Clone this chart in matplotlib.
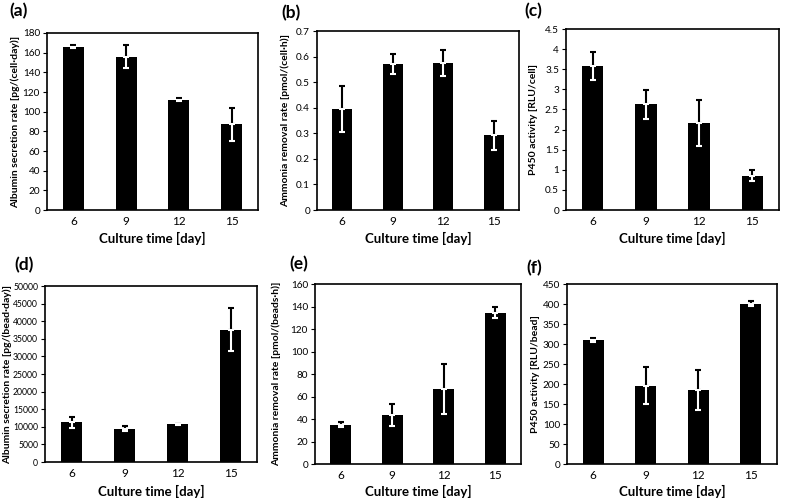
import matplotlib
matplotlib.use("Agg")
import matplotlib.pyplot as plt

plt.rcParams['font.family'] = ['Lato', 'DejaVu Sans']

days = ['6', '9', '12', '15']

alb_cell = [166, 156, 112, 87]
alb_cell_err = [1.5, 12, 1.5, 17]
amm_cell = [0.395, 0.57, 0.575, 0.293]
amm_cell_err = [0.09, 0.04, 0.05, 0.057]
p450_cell = [3.57, 2.63, 2.17, 0.85]
p450_cell_err = [0.35, 0.36, 0.57, 0.14]

alb_bead = [11300, 9500, 10700, 37600]
alb_bead_err = [1600, 800, 200, 6200]
amm_bead = [35, 43.5, 66.5, 134.5]
amm_bead_err = [2, 10, 22, 5]
p450_bead = [310, 196, 186, 401]
p450_bead_err = [4, 47, 50, 7]

W, H = 785, 498
fig = plt.figure(figsize=(W / 100, H / 100), dpi=100)


def panel(box, vals, errs, ymax, ystep, ylabel, tag, tagpos, ylab_x, xlab_y,
          ytick_size=7.2):
    x0, y0, x1, y1 = box
    ax = fig.add_axes([x0 / W, 1 - y1 / H, (x1 - x0) / W, (y1 - y0) / H])
    pos = range(len(vals))
    ax.bar(pos, vals, width=0.4, color='black', zorder=2)
    # upper half of error bar in black, lower half (inside bar) in white
    ax.errorbar(pos, vals, yerr=[[0] * len(errs), errs], fmt='none',
                ecolor='black', elinewidth=1.5, capsize=2.5, capthick=1.5, zorder=3)
    ax.errorbar(pos, vals, yerr=[errs, [0] * len(errs)], fmt='none',
                ecolor='white', elinewidth=1.5, capsize=2.5, capthick=1.5, zorder=3)
    ax.set_xlim(-0.5, len(vals) - 0.5)
    ax.set_ylim(0, ymax)
    ticks = [i * ystep for i in range(int(round(ymax / ystep)) + 1)]
    ax.set_yticks(ticks)
    ax.set_yticklabels([('%g' % t) for t in ticks], fontsize=ytick_size)
    ax.set_xticks(list(pos))
    ax.set_xticklabels(days, fontsize=8.5)
    ax.tick_params(axis='x', length=0, pad=4)
    ax.tick_params(axis='y', length=3, width=0.8, pad=2)
    for s in ax.spines.values():
        s.set_linewidth(1.2)
    ax.set_xlabel('Culture time [day]', fontsize=9.5, fontweight='bold')
    ax.set_ylabel(ylabel, fontsize=7.5, fontweight='bold')
    # place axis titles at fixed pixel spots
    ax.xaxis.set_label_coords(0.5, (y1 - xlab_y) / (y1 - y0))
    ax.xaxis.label.set_va('center')
    ax.yaxis.set_label_coords((ylab_x - x0) / (x1 - x0), 0.5)
    ax.yaxis.label.set_va('center')
    fig.text(tagpos[0] / W, 1 - tagpos[1] / H, tag, fontsize=12.5,
             fontweight='bold', ha='left', va='center')
    return ax


panel((47, 33, 258, 210), alb_cell, alb_cell_err, 180, 20,
      'Albumin secretion rate [pg/(cell·day)]', '(a)', (9, 11), 15, 238)
panel((317, 31, 519, 210), amm_cell, amm_cell_err, 0.7, 0.1,
      'Ammonia removal rate [pmol/(cell·h)]', '(b)', (281, 13), 285, 238)
panel((566, 29, 779, 210), p450_cell, p450_cell_err, 4.5, 0.5,
      'P450 activity [RLU/cell]', '(c)', (524, 11), 534, 238)
panel((45, 286, 257, 462), alb_bead, alb_bead_err, 50000, 5000,
      'Albumin secretion rate [pg/(bead·day)]', '(d)', (14, 265), 7, 491,
      ytick_size=6.2)
panel((315, 284, 521, 464), amm_bead, amm_bead_err, 160, 20,
      'Ammonia removal rate [pmol/(beads·h)]', '(e)', (289, 264), 276, 491)
panel((567, 284, 777, 464), p450_bead, p450_bead_err, 450, 50,
      'P450 activity [RLU/bead]', '(f)', (526, 268), 535, 491)

fig.savefig('out.png', dpi=100)
